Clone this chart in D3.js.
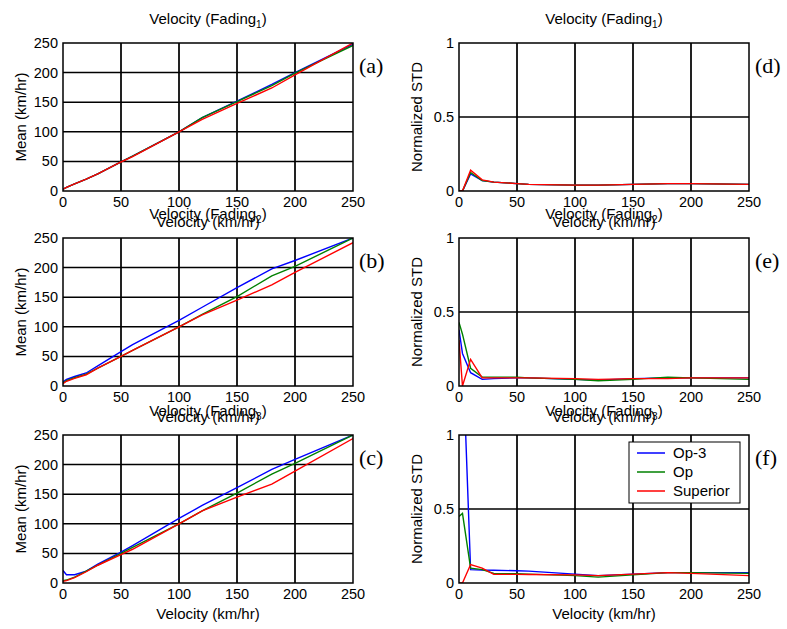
<!DOCTYPE html>
<html>
<head>
<meta charset="utf-8">
<script src="https://cdn.jsdelivr.net/npm/d3@7"></script>
<style>
  body { margin: 0; background: #fff; }
  text { font-family: Arial, "Liberation Sans", sans-serif; }
</style>
</head>
<body>
<div id="chart"></div>
<script>
// shared velocity samples (km/hr)
let velocity = [0, 3, 10, 20, 30, 50, 60, 100, 120, 150, 180, 200, 250]
let seriesNames = ['Op-3', 'Op', 'Superior']
let seriesColors = ['#0000ff', '#008000', '#ff0000']
let meanTicks = [0, 50, 100, 150, 200, 250]
let stdTicks = [0, 0.5, 1]
let velocityTicks = [0, 50, 100, 150, 200, 250]

// mean estimate, fading 1..3
let meanF1Op3 = [3, 6, 12, 20, 29, 49, 59, 100, 124, 152, 180, 200, 248]
let meanF1Op = [3, 6, 12, 20, 29, 49, 59, 100, 124, 151, 178, 199, 246]
let meanF1Sup = [3, 6, 12, 20, 29, 49, 58, 100, 121, 148, 174, 196, 250]

let meanF2Op3 = [7, 11, 16, 22, 34, 58, 70, 111, 133, 166, 198, 212, 250]
let meanF2Op = [5, 9, 14, 20, 30, 50, 60, 100, 121, 151, 186, 202, 250]
let meanF2Sup = [4, 8, 13, 19, 30, 50, 60, 100, 120, 145, 171, 192, 242]

let meanF3Op3 = [21, 14, 14, 20, 32, 52, 63, 109, 131, 161, 192, 209, 250]
let meanF3Op = [4, 5, 10, 20, 30, 50, 60, 100, 122, 152, 184, 202, 250]
let meanF3Sup = [3, 4, 9, 19, 30, 48, 57, 100, 122, 145, 167, 189, 244]

// normalized standard deviation, fading 1..3
let stdF1Op3 = [0, 0, 0.115, 0.07, 0.06, 0.05, 0.045, 0.04, 0.04, 0.045, 0.05, 0.05, 0.045]
let stdF1Op = [0, 0, 0.125, 0.07, 0.06, 0.05, 0.045, 0.04, 0.04, 0.045, 0.05, 0.05, 0.045]
let stdF1Sup = [0, 0, 0.14, 0.075, 0.06, 0.05, 0.045, 0.04, 0.04, 0.045, 0.05, 0.05, 0.045]

let stdF2Op3 = [0.38, 0.22, 0.09, 0.045, 0.05, 0.055, 0.055, 0.045, 0.04, 0.05, 0.055, 0.055, 0.055]
let stdF2Op = [0.43, 0.35, 0.12, 0.06, 0.06, 0.06, 0.055, 0.045, 0.035, 0.045, 0.06, 0.055, 0.045]
let stdF2Sup = [0.31, 0, 0.18, 0.055, 0.055, 0.055, 0.055, 0.05, 0.045, 0.05, 0.05, 0.055, 0.055]

let stdF3Op3 = [1.8, 1.6, 0.09, 0.087, 0.086, 0.083, 0.08, 0.06, 0.05, 0.06, 0.07, 0.07, 0.07]
let stdF3Op = [0.45, 0.47, 0.1, 0.09, 0.065, 0.062, 0.06, 0.05, 0.04, 0.055, 0.07, 0.07, 0.065]
let stdF3Sup = [0, 0, 0.125, 0.1, 0.058, 0.058, 0.057, 0.055, 0.05, 0.06, 0.07, 0.065, 0.05]

let panels = [
  { tag: '(a)', fading: '1', left: 63, top: 43, kind: 'mean', data: [meanF1Op3, meanF1Op, meanF1Sup] },
  { tag: '(b)', fading: '2', left: 63, top: 238, kind: 'mean', data: [meanF2Op3, meanF2Op, meanF2Sup] },
  { tag: '(c)', fading: '3', left: 63, top: 435, kind: 'mean', data: [meanF3Op3, meanF3Op, meanF3Sup] },
  { tag: '(d)', fading: '1', left: 459, top: 43, kind: 'std', data: [stdF1Op3, stdF1Op, stdF1Sup] },
  { tag: '(e)', fading: '2', left: 459, top: 238, kind: 'std', data: [stdF2Op3, stdF2Op, stdF2Sup] },
  { tag: '(f)', fading: '3', left: 459, top: 435, kind: 'std', data: [stdF3Op3, stdF3Op, stdF3Sup], legend: true }
]

let width = 290
let height = 148

let svg = d3.select('#chart')
  .append('svg')
  .attr('width', 787)
  .attr('height', 629)

let x = d3.scaleLinear().domain([0, 250]).range([0, width])

panels.forEach((p, pi) => {
  let isMean = p.kind === 'mean'
  let y = d3.scaleLinear()
    .domain(isMean ? [0, 250] : [0, 1])
    .range([height, 0])
  let yTicks = isMean ? meanTicks : stdTicks

  let holder = svg.append('g')
    .attr('transform', `translate(${p.left},${p.top})`)

  let clipId = 'clip-' + pi
  holder.append('clipPath')
    .attr('id', clipId)
    .append('rect')
    .attr('width', width)
    .attr('height', height)

  // grid
  holder.selectAll('.vgrid')
    .data(velocityTicks.slice(1, -1))
    .enter()
    .append('line')
    .attr('x1', d => x(d))
    .attr('x2', d => x(d))
    .attr('y1', 0)
    .attr('y2', height)
    .attr('stroke', '#222')
    .attr('stroke-width', 2)

  holder.selectAll('.hgrid')
    .data(yTicks.slice(1, -1))
    .enter()
    .append('line')
    .attr('x1', 0)
    .attr('x2', width)
    .attr('y1', d => y(d))
    .attr('y2', d => y(d))
    .attr('stroke', '#000')
    .attr('stroke-width', 1.5)

  // tick labels
  holder.selectAll('.xtick')
    .data(velocityTicks)
    .enter()
    .append('text')
    .attr('x', d => x(d))
    .attr('y', height + 16)
    .attr('text-anchor', 'middle')
    .attr('font-size', 14.5)
    .text(d => d)

  holder.selectAll('.ytick')
    .data(yTicks)
    .enter()
    .append('text')
    .attr('x', -5)
    .attr('y', d => y(d) + 5)
    .attr('text-anchor', 'end')
    .attr('font-size', 14.5)
    .text(d => d)

  // series
  let line = d3.line()
    .x((d, i) => x(velocity[i]))
    .y(d => y(d))

  let plot = holder.append('g').attr('clip-path', `url(#${clipId})`)
  p.data.forEach((values, si) => {
    plot.append('path')
      .datum(values)
      .attr('d', line)
      .attr('fill', 'none')
      .attr('stroke', seriesColors[si])
      .attr('stroke-width', 1.4)
  })

  // frame
  holder.append('rect')
    .attr('width', width)
    .attr('height', height)
    .attr('fill', 'none')
    .attr('stroke', '#000')
    .attr('stroke-width', 1.5)

  // title with subscript
  let title = holder.append('text')
    .attr('x', width / 2)
    .attr('y', -19)
    .attr('text-anchor', 'middle')
    .attr('font-size', 15)
  title.append('tspan').text('Velocity (Fading')
  title.append('tspan').attr('font-size', 10).attr('dy', 4).text(p.fading)
  title.append('tspan').attr('dy', -4).text(')')

  holder.append('text')
    .attr('x', width / 2)
    .attr('y', height + 36)
    .attr('text-anchor', 'middle')
    .attr('font-size', 15)
    .text('Velocity (km/hr)')

  holder.append('text')
    .attr('transform', `translate(-37,${height / 2}) rotate(-90)`)
    .attr('text-anchor', 'middle')
    .attr('font-size', 15)
    .text(isMean ? 'Mean (km/hr)' : 'Normalized STD')

  holder.append('text')
    .attr('x', width + 6)
    .attr('y', 30)
    .attr('font-size', 22)
    .style('font-family', '"Liberation Serif", "Times New Roman", serif')
    .text(p.tag)

  if (p.legend) {
    let lg = holder.append('g').attr('transform', 'translate(170,7)')
    lg.append('rect')
      .attr('width', 111)
      .attr('height', 61)
      .attr('fill', '#fff')
      .attr('stroke', '#000')
      .attr('stroke-width', 1)
    seriesNames.forEach((name, si) => {
      let ly = 11 + si * 19
      lg.append('line')
        .attr('x1', 8)
        .attr('x2', 36)
        .attr('y1', ly)
        .attr('y2', ly)
        .attr('stroke', seriesColors[si])
        .attr('stroke-width', 1.5)
      lg.append('text')
        .attr('x', 44)
        .attr('y', ly + 5)
        .attr('font-size', 15)
        .text(name)
    })
  }
})
</script>
</body>
</html>
